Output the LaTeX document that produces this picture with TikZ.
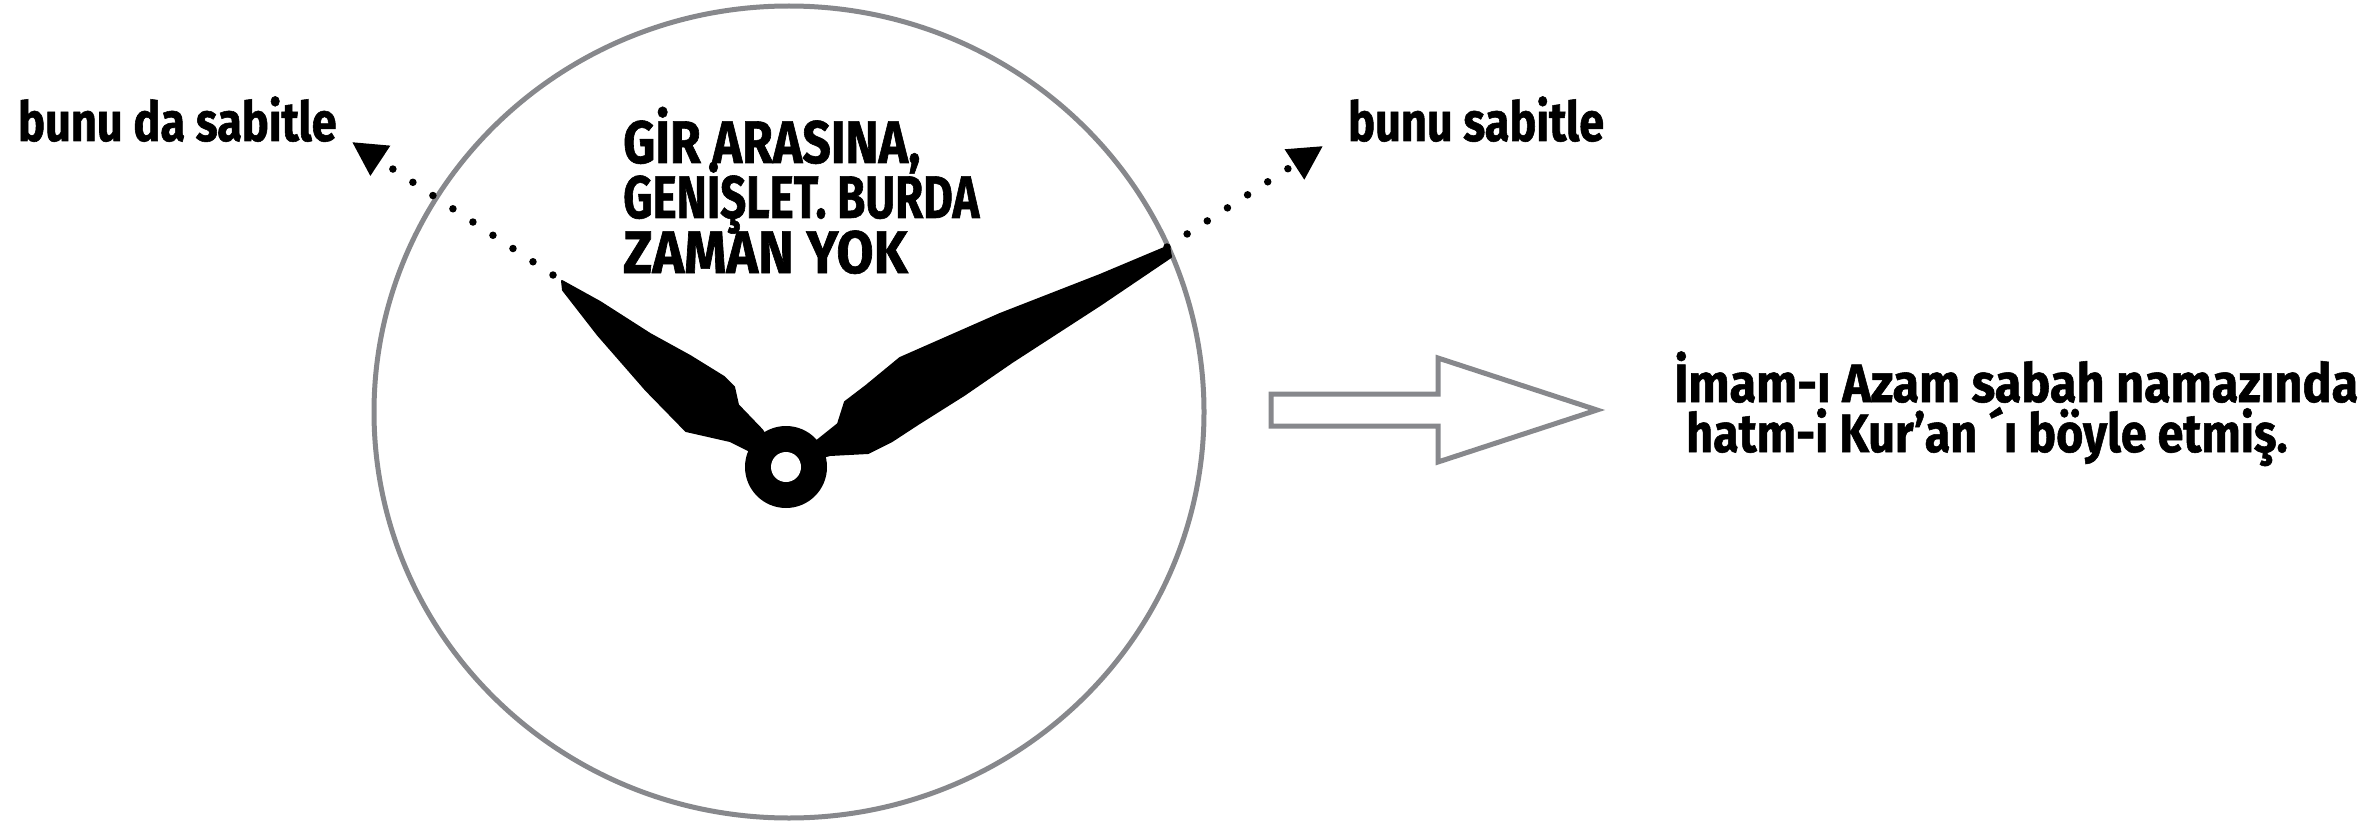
\documentclass[tikz,border=0pt]{standalone}
\usepackage{fontspec}
\usetikzlibrary{arrows.meta}
\newfontfamily\handlbl[FakeStretch=0.82,FakeBold=1]{Fira Sans}
\newfontfamily\handcap[FakeStretch=0.80,FakeBold=1]{Fira Sans}
\newfontfamily\handtxt[FakeStretch=0.90,FakeBold=1]{Fira Sans}
\definecolor{rim}{HTML}{87888C}
\begin{document}
\begin{tikzpicture}[x=1pt,y=-1pt,
  lbl/.style={anchor=base west, inner sep=0pt, font=\handlbl\bfseries\fontsize{55}{60}\selectfont},
  captxt/.style={anchor=base west, inner sep=0pt, font=\handcap\bfseries\fontsize{60}{60}\selectfont},
  rtxt/.style={anchor=base west, inner sep=0pt, font=\handtxt\bfseries\fontsize{54}{54}\selectfont},
  dotconn/.style={line width=7.5pt, line cap=round, dash pattern=on 0pt off 24pt,
    -{Triangle[length=34pt,width=34pt]}},
  rimline/.style={draw=rim, line width=5pt},
  handfill/.style={fill=black, draw=black, line width=2pt, line join=round}
]
\useasboundingbox (0,0) rectangle (2376,821);
\fill[white] (0,0) rectangle (2376,821);

% clock face
\draw[rimline] (789,412) ellipse [x radius=415pt, y radius=406pt];

% hands
\path[handfill] (562,281) -- (600,302) -- (650,334) -- (690,356) -- (724,377) -- (734,387)
  -- (738,405) -- (762,430) -- (786,467) -- (748,450) -- (730,441) -- (708,436)
  -- (686,431) -- (646,390) -- (598,335) -- (563,290) -- cycle;
\path[handfill] (1169,246) -- (1100,275) -- (1000,314) -- (900,358) -- (866,386)
  -- (845,402) -- (838,424) -- (818,440) -- (786,467) -- (830,455) -- (868,453)
  -- (892,441) -- (918,424) -- (964,395) -- (1012,362) -- (1100,305) -- (1171,257) -- cycle;

% hub
\fill[black] (786,467) circle[radius=41pt];
\fill[white] (786,467) circle[radius=15pt];

% connectors
\coordinate (lhtip) at (553,275);
\coordinate (rhtip) at (1167,247);
\coordinate (lend) at (352,142);
\coordinate (rend) at (1323,146);
\draw[dotconn] (lhtip) -- (lend);
\draw[dotconn] (rhtip) -- (rend);

% labels
\node[lbl] (ll) at (18,141) {bunu da sabitle};
\node[lbl] (rl) at (1348,141) {bunu sabitle};

\node[captxt] (c1) at (623,163) {\scalebox{1.04}[1]{GİR ARASINA,}};
\node[captxt] (c2) at (623,218) {\scalebox{0.95}[1]{GENİŞLET. BURDA}};
\node[captxt] (c3) at (623,273) {\scalebox{1.12}[1]{ZAMAN YOK}};

% big arrow
\draw[rimline, line join=miter] (1271,394) -- (1438,394) -- (1438,358) -- (1597,410)
  -- (1438,462) -- (1438,426) -- (1271,426) -- cycle;

\node[rtxt] (r1) at (1674,402) {İmam-ı Azam sabah namazında};
\node[rtxt] (r2) at (1686,452) {\scalebox{0.96}[1]{hatm-i Kur’an ´ı böyle etmiş.}};
\end{tikzpicture}
\end{document}
